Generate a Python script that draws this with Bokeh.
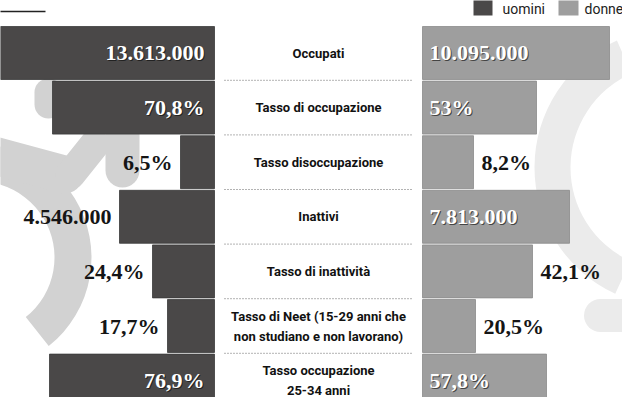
from bokeh.plotting import figure
from bokeh.models import Range1d, ColumnDataSource
from bokeh.core.properties import value
from bokeh.embed import file_html
from bokeh.resources import INLINE

# ---------------- data ----------------
categories = [
    "Occupati",
    "Tasso di occupazione",
    "Tasso disoccupazione",
    "Inattivi",
    "Tasso di inattività",
    "Tasso di Neet (15-29 anni che\nnon studiano e non lavorano)",
    "Tasso occupazione\n25-34 anni",
]
uomini_values = [13613000, 70.8, 6.5, 4546000, 24.4, 17.7, 76.9]
donne_values = [10095000, 53.0, 8.2, 7813000, 42.1, 20.5, 57.8]
uomini_labels = ["13.613.000", "70,8%", "6,5%", "4.546.000", "24,4%", "17,7%", "76,9%"]
donne_labels = ["10.095.000", "53%", "8,2%", "7.813.000", "42,1%", "20,5%", "57,8%"]
# bar lengths as drawn in the infographic (not to a common scale)
uomini_bar = [216, 162, 34, 95, 62, 47, 165]
donne_bar = [187, 114, 51, 147, 110, 53, 124]
series_names = ["uomini", "donne"]

# ---------------- style / layout ----------------
DARK = "#4a4848"
LIGHT = "#9e9e9e"
GAP = 104          # half-width of the central label column
INSIDE_MIN = 112   # bars this long carry their label inside
W, H = 622, 397
ROW_PX = 54.6
CENTER_X = 326
ROW0_Y = 60.5
LINE_SP = 20 / ROW_PX   # spacing of two-line category labels

rows = list(range(len(categories)))

p = figure(width=W, height=H, output_backend="svg", toolbar_location=None,
           x_range=Range1d(8 - CENTER_X, 8 + W - CENTER_X),
           y_range=Range1d((8 + H - ROW0_Y) / ROW_PX, (8 - ROW0_Y) / ROW_PX),
           min_border=0)
p.axis.visible = False
p.grid.visible = False
p.outline_line_color = None
p.background_fill_color = "white"
p.border_fill_color = "white"

def px(x):  # page x -> data x
    return x - CENTER_X

def py(y):  # page y -> data y
    return (y - ROW0_Y) / ROW_PX

# faint watermark shapes in the background (y axis is flipped: angles mirror)
WM1 = "#d2d2d2"
WM2 = "#ebebeb"
p.annular_wedge(x=[px(-14)], y=[py(265)], inner_radius=76, outer_radius=113,
                start_angle=-0.9, end_angle=2.0, direction="anticlock",
                fill_color=WM1, line_color=None)
p.segment(x0=[px(-10)], y0=[py(160)], x1=[px(72)], y1=[py(182)],
          line_color=WM1, line_width=38, line_cap="round")
p.segment(x0=[px(78)], y0=[py(182)], x1=[px(102)], y1=[py(152)],
          line_color=WM1, line_width=30, line_cap="round")
p.segment(x0=[px(130)], y0=[py(140)], x1=[px(130)], y1=[py(178)],
          line_color=WM1, line_width=34, line_cap="round")
p.segment(x0=[px(56)], y0=[py(100)], x1=[px(56)], y1=[py(112)],
          line_color=WM1, line_width=28, line_cap="round")
p.annular_wedge(x=[px(681)], y=[py(175)], inner_radius=103, outer_radius=139,
                start_angle=1.99, end_angle=4.28, direction="anticlock",
                fill_color=WM2, line_color=None)
p.segment(x0=[px(608)], y0=[py(323)], x1=[px(650)], y1=[py(323)],
          line_color=WM2, line_width=33, line_cap="round")

# bars
src_u = ColumnDataSource(dict(
    y=rows, left=[-GAP - b for b in uomini_bar], right=[-GAP] * len(rows)))
src_d = ColumnDataSource(dict(
    y=rows, left=[GAP] * len(rows), right=[GAP + b for b in donne_bar]))
p.hbar(y="y", left="left", right="right", height=0.97, source=src_u,
       fill_color=DARK, line_color="#3a3a3a", line_width=0.8)
p.hbar(y="y", left="left", right="right", height=0.97, source=src_d,
       fill_color=LIGHT, line_color="#8a8a8a", line_width=0.8)

# separators
sep_y = [r + 0.5 for r in rows[:-1]]
p.segment(x0=[-GAP + 10] * len(sep_y), x1=[GAP - 10] * len(sep_y),
          y0=sep_y, y1=sep_y, line_color="#666666", line_width=1,
          line_dash="1 2")

# central category labels (one text per line)
cx, cy, ct = [], [], []
for r, cat in zip(rows, categories):
    lines = cat.split("\n")
    n = len(lines)
    for k, ln in enumerate(lines):
        cx.append(0)
        cy.append(r + (k - (n - 1) / 2) * LINE_SP)
        ct.append(ln)
p.text(x=cx, y=cy, text=ct,
       text_font=value("Roboto"), text_font_style="bold",
       text_font_size="13px", text_color="#111111",
       text_align="center", text_baseline="middle")

# value labels
vfont = value("Liberation Serif")
ux_in, ux_out, ut_in, ut_out, uy_in, uy_out = [], [], [], [], [], []
for r, b, t in zip(rows, uomini_bar, uomini_labels):
    if b >= INSIDE_MIN:
        ux_in.append(-GAP - 10); ut_in.append(t); uy_in.append(r)
    else:
        ux_out.append(-GAP - b - 8); ut_out.append(t); uy_out.append(r)
dx_in, dx_out, dt_in, dt_out, dy_in, dy_out = [], [], [], [], [], []
for r, b, t in zip(rows, donne_bar, donne_labels):
    if b >= INSIDE_MIN:
        dx_in.append(GAP + 7); dt_in.append(t); dy_in.append(r)
    else:
        dx_out.append(GAP + b + 8); dt_out.append(t); dy_out.append(r)

common = dict(text_font=vfont, text_font_style="bold", text_font_size="22px",
              text_baseline="middle")
# shadows for white text
p.text(x=ux_in, y=uy_in, text=ut_in, text_align="right", text_color="#222222",
       x_offset=1, y_offset=1, **common)
p.text(x=dx_in, y=dy_in, text=dt_in, text_align="left", text_color="#444444",
       x_offset=1, y_offset=1, **common)
p.text(x=ux_in, y=uy_in, text=ut_in, text_align="right", text_color="white", **common)
p.text(x=dx_in, y=dy_in, text=dt_in, text_align="left", text_color="white", **common)
p.text(x=ux_out, y=uy_out, text=ut_out, text_align="right", text_color="#151515", **common)
p.text(x=dx_out, y=dy_out, text=dt_out, text_align="left", text_color="#151515", **common)

# legend (top right)
p.quad(left=[px(481), px(566)], right=[px(500), px(586)],
       top=[py(6), py(6)], bottom=[py(23), py(23)],
       fill_color=[DARK, LIGHT], line_color=None)
p.text(x=[px(510), px(592)], y=[py(16), py(16)], text=series_names,
       text_font=value("Roboto"), text_font_size="14px",
       text_color="#222222", text_baseline="middle", text_align="left")

# short rule at top left
p.segment(x0=[px(5)], x1=[px(53)], y0=[py(19)], y1=[py(19)],
          line_color="#222222", line_width=1.5)

open("out.html", "w").write(file_html(p, INLINE))
